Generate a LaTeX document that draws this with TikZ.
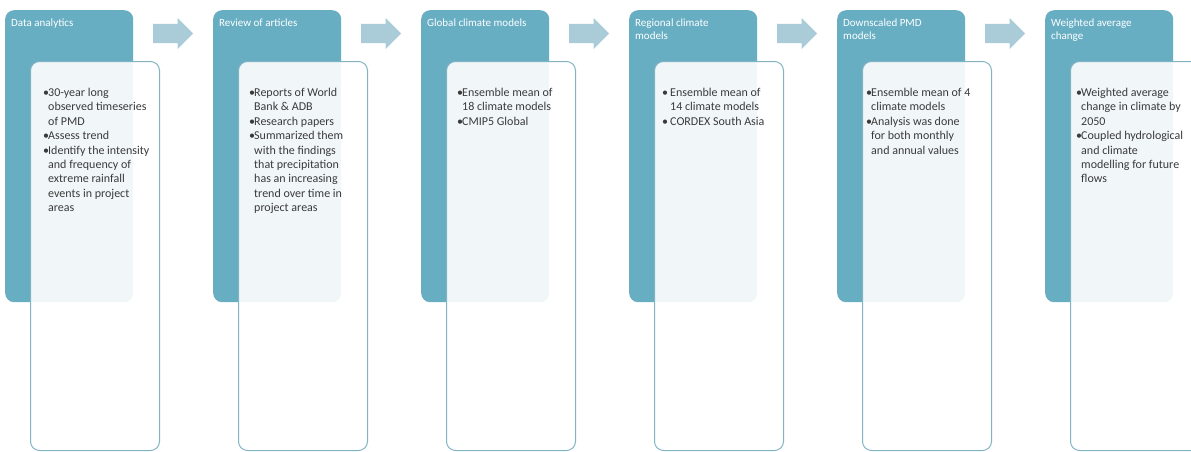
\documentclass[tikz,border=0pt]{standalone}
\usepackage{fontspec}
\setmainfont{Carlito}
\usetikzlibrary{shapes.arrows}

\definecolor{stepteal}{HTML}{68AEC3}
\definecolor{flowarrow}{HTML}{A9CCD8}
\definecolor{cardline}{HTML}{82B4C4}
\definecolor{bodytext}{HTML}{3A3A3A}

% bullet with hanging indent for the card texts
\newcommand{\bul}{\makebox[5pt][l]{•}}
\newcommand{\hng}{\hspace*{5pt}}
\newcommand{\bulw}{\makebox[8pt][l]{•}}
\newcommand{\hngw}{\hspace*{8pt}}

\begin{document}
\begin{tikzpicture}[x=1pt,y=-1pt,
  stagebox/.style={fill=stepteal, draw=none, rounded corners=9pt,
    minimum width=128pt, minimum height=292pt, inner sep=0pt, anchor=north west},
  cardbox/.style={fill=white, fill opacity=0.91, draw=cardline, line width=1pt,
    rounded corners=9pt, minimum width=129pt, minimum height=389pt,
    inner sep=0pt, anchor=north west},
  stagetitle/.style={text=white, inner sep=0pt, anchor=north west, align=left,
    font=\fontsize{11}{13}\selectfont},
  cardtext/.style={text=bodytext, inner sep=0pt, anchor=north west, align=left,
    font=\fontsize{12}{14.4}\selectfont},
  flow/.style={shape=single arrow, fill=flowarrow, draw=none,
    inner xsep=0pt, inner ysep=9.5pt,
    minimum height=40pt, minimum width=31pt, single arrow head extend=6pt,
    anchor=west}
]
\clip (0,0) rectangle (1191,451);
\fill[white] (0,0) rectangle (1191,451);

% stage columns
\foreach \k in {0,...,5} {
  \node[stagebox] (s\k) at (5+208*\k,10) {};
  \node[cardbox] (c\k) at (30+208*\k,61) {};
}
\foreach \k in {0,...,4} {
  \node[flow] (a\k) at (153+208*\k,33.5) {};
}

% stage titles
\node[stagetitle] (h0) at (11,19) {Data analytics};
\node[stagetitle] (h1) at (219,19) {Review of articles};
\node[stagetitle] (h2) at (427,19) {Global climate models};
\node[stagetitle] (h3) at (635,19) {Regional climate\\models};
\node[stagetitle] (h4) at (843,19) {Downscaled PMD\\models};
\node[stagetitle] (h5) at (1051,19) {Weighted average\\change};

% card texts
\node[cardtext] (b0) at (43,88) {\bul 30-year long\\\hng observed timeseries\\\hng of PMD\\
  \bul Assess trend\\\bul Identify the intensity\\\hng and frequency of\\
  \hng extreme rainfall\\\hng events in project\\\hng areas};
\node[cardtext] (b1) at (249,88) {\bul Reports of World\\\hng Bank \& ADB\\
  \bul Research papers\\\bul Summarized them\\\hng with the findings\\
  \hng that precipitation\\\hng has an increasing\\\hng trend over time in\\
  \hng project areas};
\node[cardtext] (b2) at (457,88) {\bul Ensemble mean of\\\hng 18 climate models\\
  \bul CMIP5 Global};
\node[cardtext] (b3) at (662,88) {\bulw Ensemble mean of\\\hngw 14 climate models\\
  \bulw CORDEX South Asia};
\node[cardtext] (b4) at (866,88) {\bul Ensemble mean of 4\\\hng climate models\\
  \bul Analysis was done\\\hng for both monthly\\\hng and annual values};
\node[cardtext] (b5) at (1076,88) {\bul Weighted average\\\hng change in climate by\\
  \hng 2050\\\bul Coupled hydrological\\\hng and climate\\
  \hng modelling for future\\\hng flows};
\end{tikzpicture}
\end{document}
